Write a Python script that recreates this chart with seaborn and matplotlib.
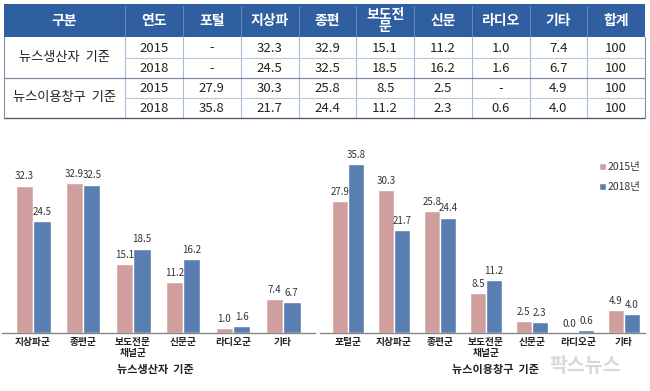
import pandas as pd
import numpy as np
import seaborn as sns
import matplotlib
matplotlib.use('Agg')
import matplotlib.pyplot as plt
from matplotlib.patches import Rectangle

sns.set_style('white')
plt.rcParams['font.family'] = ['Noto Sans CJK KR', 'DejaVu Sans']

# ---- data ----
years = ['2015년', '2018년']

prod_cats = ['지상파군', '종편군', '보도전문\n채널군', '신문군', '라디오군', '기타']
prod_2015 = [32.3, 32.9, 15.1, 11.2, 1.0, 7.4]
prod_2018 = [24.5, 32.5, 18.5, 16.2, 1.6, 6.7]

use_cats = ['포털군', '지상파군', '종편군', '보도전문\n채널군', '신문군', '라디오군', '기타']
use_2015 = [27.9, 30.3, 25.8, 8.5, 2.5, 0.0, 4.9]
use_2018 = [35.8, 21.7, 24.4, 11.2, 2.3, 0.6, 4.0]

tbl_header = ['구분', '연도', '포털', '지상파', '종편', '보도전\n문', '신문', '라디오', '기타', '합계']
tbl_groups = ['뉴스생산자  기준', '뉴스이용창구  기준']
tbl_rows = [
    ['2015', '-', '32.3', '32.9', '15.1', '11.2', '1.0', '7.4', '100'],
    ['2018', '-', '24.5', '32.5', '18.5', '16.2', '1.6', '6.7', '100'],
    ['2015', '27.9', '30.3', '25.8', '8.5', '2.5', '-', '4.9', '100'],
    ['2018', '35.8', '21.7', '24.4', '11.2', '2.3', '0.6', '4.0', '100'],
]

pink = '#D99694'
blue = '#4A7BC0'
txt = '#333333'

fig = plt.figure(figsize=(6.5, 3.91), dpi=100)

# ---- table (drawn in pixel space) ----
tab = fig.add_axes([0, 0, 1, 1])
tab.set_xlim(0, 650)
tab.set_ylim(391, 0)
tab.axis('off')
xe = [4, 125, 183] + [183 + 57.75 * (i + 1) for i in range(8)]
ye = [4, 37, 58, 78, 98, 118]
tab.add_patch(Rectangle((xe[0], ye[0]), xe[-1] - xe[0], ye[1] - ye[0],
                        facecolor='#2F5FA0', edgecolor='none'))
for j, h in enumerate(tbl_header):
    tab.text((xe[j] + xe[j + 1]) / 2, (ye[0] + ye[1]) / 2 + 0.5, h, color='white',
             fontsize=10, fontweight='bold', ha='center', va='center', linespacing=0.9)
    if 0 < j:
        tab.plot([xe[j], xe[j]], [ye[0] + 2, ye[1]], color='#6f8fc0', lw=0.6)
        tab.plot([xe[j], xe[j]], [ye[1], ye[-1]], color='#a9bcd6', lw=0.8)
for g, name in enumerate(tbl_groups):
    tab.text((xe[0] + xe[1]) / 2, ye[1 + 2 * g + 1], name, color='#222222',
             fontsize=9.5, ha='center', va='center')
for r, row in enumerate(tbl_rows):
    yc = (ye[r + 1] + ye[r + 2]) / 2
    for j, v in enumerate(row):
        tab.text((xe[j + 1] + xe[j + 2]) / 2, yc + 0.5, v, color='#222222',
                 fontsize=9.5, ha='center', va='center')
for k in [2, 4]:
    tab.plot([xe[1], xe[-1]], [ye[k], ye[k]], color='#b8c6d8', lw=0.8)
tab.plot([xe[0], xe[-1]], [ye[3], ye[3]], color='#7a8aa0', lw=0.9)
tab.plot([xe[0], xe[-1]], [ye[-1], ye[-1]], color='#556070', lw=1.0)
tab.plot([xe[0], xe[0]], [ye[1], ye[-1]], color='#8090a8', lw=0.8)
tab.plot([xe[-1], xe[-1]], [ye[1], ye[-1]], color='#8090a8', lw=0.8)

# watermark
tab.text(585, 366, '팍스뉴스', color='#cfcfcf', fontsize=14, fontweight='bold',
         ha='center', va='center', alpha=0.8)


def draw(ax, cats, v15, v18, label, xlim, ylim, label_x):
    df = pd.DataFrame({
        'cat': cats * 2,
        'val': v15 + v18,
        'year': [years[0]] * len(cats) + [years[1]] * len(cats),
    })
    sns.barplot(data=df, x='cat', y='val', hue='year', order=cats,
                palette=[pink, blue], width=0.7, ax=ax, legend=(ax is ax_r))
    for c in ax.containers:
        ax.bar_label(c, fmt='%.1f', padding=3, fontsize=7, color=txt, clip_on=False)
    ax.set_xlim(*xlim)
    ax.set_ylim(0, ylim)
    ax.set_yticks([])
    ax.set_ylabel('')
    for s in ['top', 'right', 'left']:
        ax.spines[s].set_visible(False)
    ax.spines['bottom'].set_color('#888888')
    ax.spines['bottom'].set_linewidth(1.0)
    ax.tick_params(axis='x', length=0, pad=3)
    for t in ax.get_xticklabels():
        t.set_fontsize(7)
        t.set_fontweight('bold')
        t.set_color('#222222')
        t.set_linespacing(1.05)
    ax.set_xlabel(label, fontsize=8, color='#222222', fontweight='bold')
    ax.xaxis.set_label_coords(label_x, -0.21)
    ax.xaxis.label.set_va('center')


ax_l = fig.add_axes([2 / 650, 58 / 391, 313 / 650, 173 / 391])
ax_r = fig.add_axes([320 / 650, 58 / 391, 325 / 650, 173 / 391])

draw(ax_l, prod_cats, prod_2015, prod_2018, '뉴스생산자  기준',
     (-0.62, 5.64), 37.9, 0.49)
draw(ax_r, use_cats, use_2015, use_2018, '뉴스이용창구  기준',
     (-0.61, 6.46), 36.6, 0.54)

leg = ax_r.legend(loc='upper right', bbox_to_anchor=(1.0, 1.01), frameon=False,
                  fontsize=7.5, handlelength=0.7, handleheight=0.7,
                  handletextpad=0.2, labelspacing=0.9, borderaxespad=0)
for t in leg.get_texts():
    t.set_color(txt)

fig.savefig('out.png', dpi=100)
